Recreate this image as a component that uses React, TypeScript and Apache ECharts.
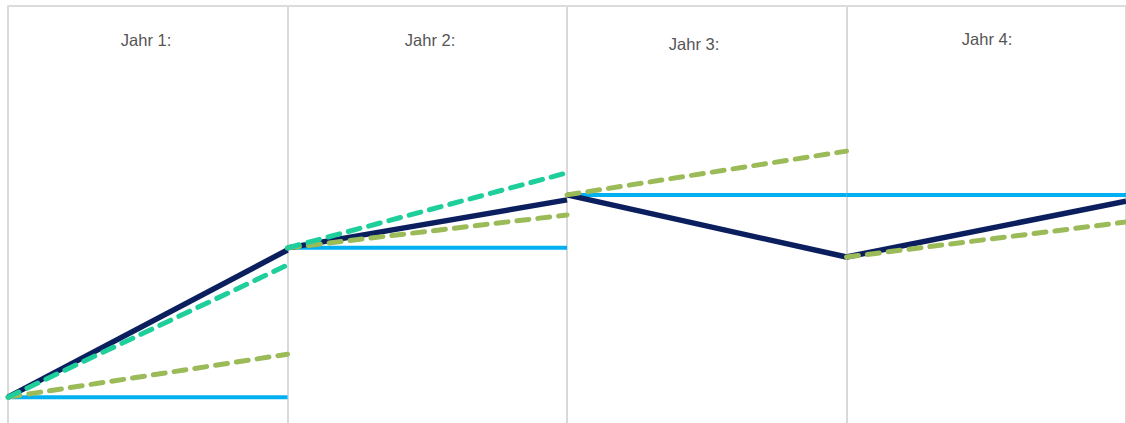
import React, { useEffect, useRef } from "react";
import * as echarts from "echarts";

const years = ["Jahr 1:", "Jahr 2:", "Jahr 3:", "Jahr 4:"];
const navyStart = [6.2, 42.0, 54.7, 39.8];
const navyEnd = [41.5, 53.5, 39.8, 53.2];
const tealStart: (number | null)[] = [6.2, 42.0, null, null];
const tealEnd: (number | null)[] = [37.9, 60.0, null, null];
const greenStart = [6.2, 42.0, 54.7, 39.8];
const greenEnd = [16.5, 49.9, 65.2, 48.2];
const blueLevel = [6.2, 42.0, 54.7, 54.7];

const titlePos = [
  [146, 40],
  [430, 40],
  [694, 44],
  [987, 39],
];

export default function App() {
  const ref = useRef<HTMLDivElement>(null);
  useEffect(() => {
    if (!ref.current) return;
    const chart = echarts.init(ref.current, null, { renderer: "svg" });
    const series: any[] = [];
    const mk = (name: string, start: (number | null)[], end: (number | null)[], color: string, dashed: boolean, width: number, z: number) => {
      for (let i = 0; i < start.length; i++) {
        if (start[i] == null || end[i] == null) continue;
        series.push({
          type: "line",
          name,
          data: [
            [i, start[i]],
            [i + 1, end[i]],
          ],
          symbol: "none",
          z,
          lineStyle: {
            color,
            width,
            type: dashed ? [12, 9] : "solid",
            cap: dashed ? "round" : "butt",
          },
        });
      }
    };
    mk("Basis", blueLevel, blueLevel, "#00b0f0", false, 4, 2);
    mk("Ist", navyStart, navyEnd, "#0b1f5e", false, 5.5, 3);
    mk("Plan B", greenStart, greenEnd, "#9bbb59", true, 5, 4);
    mk("Plan A", tealStart, tealEnd, "#1ecf9c", true, 5, 5);

    chart.setOption({
      animation: false,
      grid: { left: 8, right: 0, top: 6, bottom: 0 },
      xAxis: [
        {
          type: "value",
          min: 0,
          max: 4,
          interval: 1,
          axisLine: { show: false },
          axisTick: { show: false },
          axisLabel: { show: false },
          splitLine: { show: true, lineStyle: { color: "#d9d9d9", width: 2 } },
        },
        {
          type: "value",
          position: "top",
          min: 0,
          max: 4,
          interval: 1,
          axisLine: { show: true, lineStyle: { color: "#dcdcdc", width: 2 } },
          axisTick: { show: false },
          axisLabel: { show: false },
          splitLine: { show: false },
        },
      ],
      yAxis: {
        type: "value",
        min: 0,
        max: 100,
        show: false,
        splitLine: { show: false },
      },
      graphic: years.map((t, i) => ({
        type: "text",
        x: titlePos[i][0],
        y: titlePos[i][1],
        style: {
          text: t,
          fill: "#555555",
          fontSize: 16.5,
          fontFamily: "Liberation Sans, Arial, sans-serif",
          align: "center",
          verticalAlign: "middle",
        },
      })),
      series,
    });
    return () => chart.dispose();
  }, []);
  return (
    <div
      ref={ref}
      style={{ position: "absolute", left: 0, top: 0, width: 1126, height: 423, background: "#fff" }}
    />
  );
}
